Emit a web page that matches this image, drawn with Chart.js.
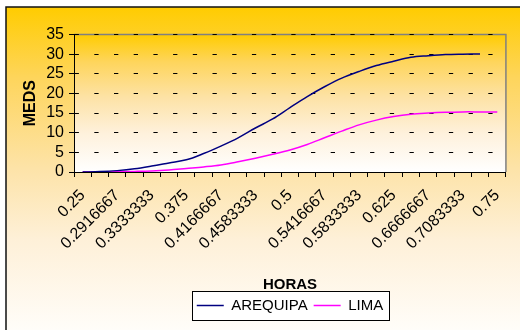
<!DOCTYPE html>
<html>
<head>
<meta charset="utf-8">
<script src="https://cdn.jsdelivr.net/npm/chart.js@4.4.1/dist/chart.umd.min.js"></script>
<style>
  html, body { margin: 0; padding: 0; background: #ffffff; }
  #wrap { width: 520px; height: 330px; }
</style>
</head>
<body>
<div id="wrap"><canvas id="chart" width="520" height="330"></canvas></div>
<script>
// Hours of the day (fraction of a day), every half hour from 06:00 to 18:00
const horas = [
  '0.25', '0.2708333', '0.2916667', '0.3125', '0.3333333', '0.3541667',
  '0.375', '0.3958333', '0.4166667', '0.4375', '0.4583333', '0.4791667',
  '0.5', '0.5208333', '0.5416667', '0.5625', '0.5833333', '0.6041667',
  '0.625', '0.6458333', '0.6666667', '0.6875', '0.7083333', '0.7291667', '0.75'
];

// Accumulated MEDS per city
const arequipa = [
  0, 0.1, 0.35, 0.8, 1.5, 2.3, 3.1, 4.7, 6.6, 8.7, 11.2, 13.5,
  16.4, 19.2, 21.7, 23.9, 25.6, 27.1, 28.2, 29.2, 29.6, 29.9, 30.0, 30.05
];
const lima = [
  0, 0.05, 0.1, 0.15, 0.25, 0.5, 0.9, 1.3, 1.8, 2.6, 3.5, 4.5,
  5.6, 7.0, 8.7, 10.4, 12.0, 13.2, 14.1, 14.7, 15.0, 15.2, 15.3, 15.3, 15.3
];

// Value axis range
const yMin = 0;
const yMax = 35;
const yStep = 5;

const FONT = '"Liberation Sans", Arial, sans-serif';

// Backgrounds, frames and the legend box
const framePlugin = {
  id: 'frame',
  beforeDraw(chart) {
    const { ctx, chartArea: a, width, height } = chart;
    ctx.save();
    ctx.fillStyle = '#ffffff';
    ctx.fillRect(0, 0, width, height);

    const g = ctx.createLinearGradient(0, 7, 0, height);
    g.addColorStop(0, '#ffcc00');
    g.addColorStop(0.22, '#fed55c');
    g.addColorStop(0.5, '#fde3a8');
    g.addColorStop(0.72, '#fef0d8');
    g.addColorStop(1, '#fffdf9');
    ctx.fillStyle = g;
    ctx.fillRect(6, 7, width - 6, height - 7);

    const pg = ctx.createLinearGradient(0, a.top, 0, a.bottom);
    pg.addColorStop(0, '#ffcc00');
    pg.addColorStop(0.2, '#fed55c');
    pg.addColorStop(0.45, '#fde2a4');
    pg.addColorStop(0.72, '#fef1dc');
    pg.addColorStop(1, '#ffffff');
    ctx.fillStyle = pg;
    ctx.fillRect(a.left, a.top, a.right - a.left, a.bottom - a.top);

    ctx.strokeStyle = '#808080';
    ctx.lineWidth = 1.5;
    ctx.beginPath();
    ctx.moveTo(a.left, a.top);
    ctx.lineTo(a.right, a.top);
    ctx.lineTo(a.right, a.bottom);
    ctx.stroke();

    ctx.strokeStyle = '#111111';
    ctx.lineWidth = 1.5;
    ctx.beginPath();
    ctx.moveTo(6, height);
    ctx.lineTo(6, 7);
    ctx.lineTo(width, 7);
    ctx.stroke();

    const hb = chart.legend && chart.legend.legendHitBoxes;
    if (hb && hb.length) {
      const first = hb[0];
      const last = hb[hb.length - 1];
      const left = Math.round(first.left - 5) + 0.5;
      const right = Math.round(last.left + last.width + 6) + 0.5;
      const top = Math.round(first.top - 7) + 0.5;
      const bottom = Math.round(first.top + first.height + 7) + 0.5;
      ctx.fillStyle = '#ffffff';
      ctx.fillRect(left, top, right - left, bottom - top);
      ctx.strokeStyle = '#000000';
      ctx.lineWidth = 1;
      ctx.strokeRect(left, top, right - left, bottom - top);
    }
    ctx.restore();
  }
};

new Chart(document.getElementById('chart'), {
  type: 'line',
  data: {
    labels: horas,
    datasets: [
      {
        label: 'AREQUIPA',
        data: arequipa,
        borderColor: '#000080',
        backgroundColor: '#000080',
        borderWidth: 1.5,
        pointRadius: 0,
        tension: 0.35,
        fill: false
      },
      {
        label: 'LIMA',
        data: lima,
        borderColor: '#ff00ff',
        backgroundColor: '#ff00ff',
        borderWidth: 1.5,
        pointRadius: 0,
        tension: 0.35,
        fill: false
      }
    ]
  },
  options: {
    responsive: false,
    devicePixelRatio: 1,
    animation: false,
    layout: { padding: { left: 0, top: 34.5, right: 7, bottom: 7 } },
    plugins: {
      tooltip: { enabled: false },
      title: { display: false },
      legend: {
        display: true,
        position: 'bottom',
        fullSize: false,
        labels: {
          usePointStyle: true,
          pointStyle: 'line',
          pointStyleWidth: 27,
          padding: 6,
          color: '#000000',
          font: { family: FONT, size: 15 }
        }
      }
    },
    scales: {
      x: {
        type: 'category',
        offset: true,
        afterFit(scale) { scale.height = 120; },
        border: { display: true, color: '#000000', width: 1 },
        grid: {
          display: true,
          offset: true,
          drawOnChartArea: false,
          drawTicks: true,
          tickLength: 5,
          color: '#000000',
          lineWidth: 1
        },
        ticks: {
          autoSkip: false,
          minRotation: 45,
          maxRotation: 45,
          padding: 9,
          color: '#000000',
          font: { family: FONT, size: 16 },
          callback(value, index) {
            return index % 2 === 0 ? this.getLabelForValue(value) : '';
          }
        },
        title: {
          display: true,
          text: 'HORAS',
          color: '#000000',
          padding: { top: 0, bottom: 0 },
          font: { family: FONT, size: 15, weight: 'bold', lineHeight: 1 }
        }
      },
      y: {
        min: yMin,
        max: yMax,
        afterFit(scale) { scale.width = 74; },
        border: { display: true, color: '#000000', width: 1, dash: [4.3, 15.4], dashOffset: 0.4 },
        grid: {
          display: true,
          color: '#000000',
          lineWidth: 1,
          drawTicks: true,
          tickLength: 5,
          tickColor: '#000000'
        },
        ticks: {
          autoSkip: false,
          stepSize: yStep,
          padding: 5,
          color: '#000000',
          font: { family: FONT, size: 16 }
        },
        title: {
          display: true,
          text: 'MEDS',
          color: '#000000',
          padding: { top: 23, bottom: 0 },
          font: { family: FONT, size: 16, weight: 'bold', lineHeight: 1 }
        }
      }
    }
  },
  plugins: [framePlugin]
});
</script>
</body>
</html>
